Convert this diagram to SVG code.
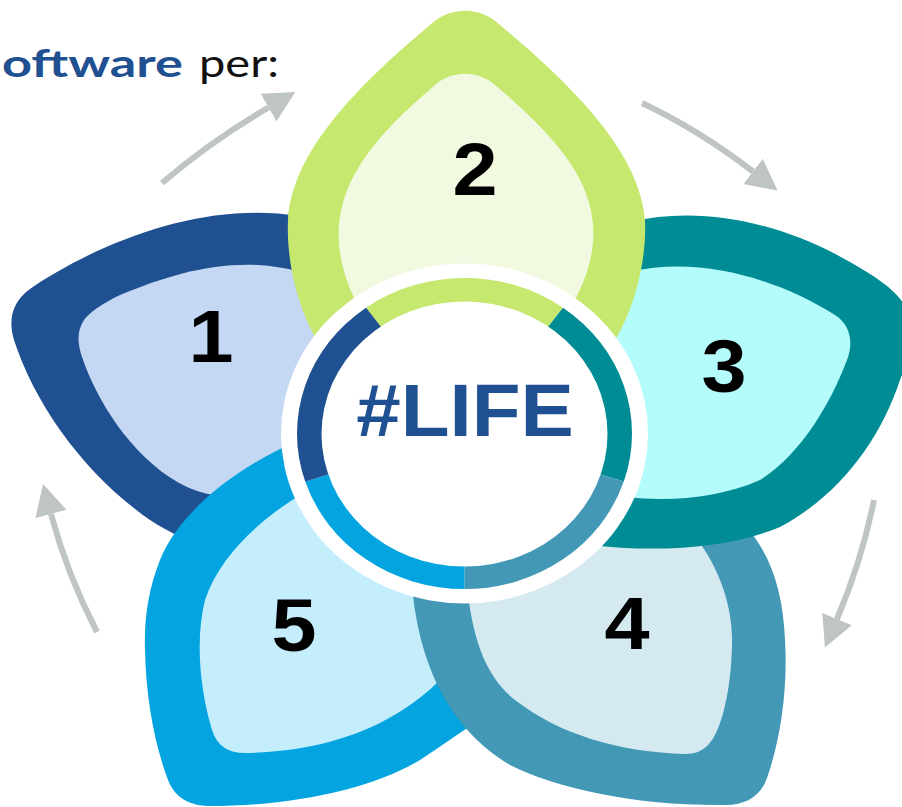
<svg xmlns="http://www.w3.org/2000/svg" width="902" height="807" viewBox="0 0 902 807">
<style>
.num{font-family:"Liberation Sans",Arial,sans-serif;font-weight:bold;font-size:75px;fill:#000;text-anchor:middle}
.arr{fill:none;stroke:#bec5c3;stroke-width:6;marker-end:url(#ah)}
.c1{fill:#1f5091}.l1{fill:#c5d8f3}
.c2{fill:#c6e86e}.l2{fill:#f1fae0}
.c3{fill:#008c94}.l3{fill:#b4fbfc}
.c4{fill:#4398b6}.l4{fill:#d5e9f1}
.c5{fill:#03a4e0}.l5{fill:#c5eefd}
</style>
<defs>
<marker id="ah" markerUnits="userSpaceOnUse" markerWidth="32" markerHeight="32" refX="0" refY="16" orient="auto" viewBox="0 0 32 32">
<path d="M0,0 L31,16 L0,32 Z" fill="#bec5c3"/>
</marker>
</defs>
<rect width="902" height="807" fill="#fff"/>
<g id="title">
<text x="2" y="77" font-family="Lato,'Open Sans',sans-serif" font-weight="bold" font-size="38" fill="#1f5091" textLength="181" lengthAdjust="spacingAndGlyphs">oftware</text>
<text x="199" y="77" font-family="Lato,'Open Sans',sans-serif" font-size="38" fill="#111" textLength="80" lengthAdjust="spacingAndGlyphs">per:</text>
</g>
<g id="connectors">
<path class="arr" d="M162,183 Q211.5,140.5 268.5,107.5"/>
<path class="arr" d="M642,103 Q699,130 753,171.5"/>
<path class="arr" d="M874,500 Q862,560 837,619"/>
<path class="arr" d="M97,632 Q67,574 51,514"/>
</g>
<g id="petal-1">
<path class="c1" d="M465,433 L300,216 C230,205 160,222 95,252 C70,264 45,278 30,289 C12,302 8,320 14,340 C35,405 85,475 150,520 C170,533 190,542 210,548 Z"/>
<path class="l1" d="M465,433 L300,272 C240,255 180,270 120,295 C100,305 90,312 84,320 C76,332 78,345 82,357 C100,410 140,465 187,487 C200,493 212,495 225,497 Z"/>
<text class="num" transform="translate(211,362) scale(1.08,1)">1</text>
</g>
<g id="petal-5">
<path class="c5" d="M465,433 L300,440 C240,465 180,510 160,560 C148,590 144,620 145,650 C146,700 155,745 168,780 C175,798 190,806 210,806 C290,806 370,790 420,760 C440,747 460,732 480,720 Z"/>
<path class="l5" d="M465,433 L300,495 C260,520 220,555 205,600 C195,640 200,690 212,730 C217,746 228,753 245,753 C320,752 390,730 440,680 Z"/>
<text class="num" transform="translate(294,651) scale(1.08,1)">5</text>
</g>
<g id="petal-4">
<path class="c4" d="M465,433 L740,520 C770,550 783,590 785,640 C788,690 780,740 768,775 C762,795 748,805 725,805 C640,806 560,790 510,765 C460,735 420,680 412,585 Z"/>
<path class="l4" d="M465,433 L690,530 C715,560 733,600 732,645 C731,690 722,725 712,740 C705,750 697,754 685,754 C620,752 560,735 515,700 C490,680 475,650 468,595 Z"/>
<text class="num" transform="translate(627,649) scale(1.08,1)">4</text>
</g>
<g id="petal-3">
<path class="c3" d="M465,433 L630,222 C700,205 780,222 850,262 C890,285 910,300 912,330 C912,350 906,365 900,380 C880,440 840,495 780,527 C730,548 660,553 590,545 Z"/>
<path class="l3" d="M465,433 L630,272 C700,255 780,280 835,315 C852,326 853,345 847,360 C830,405 800,455 760,480 C720,498 670,502 625,497 Z"/>
<text class="num" transform="translate(724,392) scale(1.08,1)">3</text>
</g>
<g id="petal-2">
<path class="c2" d="M465,433 L320,345 C300,315 286,265 288,220 C292,160 340,100 430,25 C450,6 480,6 500,25 C590,100 640,160 645,220 C647,265 632,315 612,345 Z"/>
<path class="l2" d="M465,433 L355,300 C343,275 337,250 339,225 C343,180 370,140 435,85 C452,70 478,70 495,85 C560,140 590,180 593,225 C595,250 588,275 575,300 Z"/>
<text class="num" transform="translate(475,195) scale(1.08,1)">2</text>
</g>
<g id="center">
<ellipse cx="464.5" cy="433.5" rx="183.5" ry="170" fill="#fff"/>
<path class="c2" d="M464.5,433.5 L366.05,307.7 A167.5,155.5 0 0 1 562.95,307.7 Z"/>
<path class="c3" d="M464.5,433.5 L562.95,307.7 A167.5,155.5 0 0 1 623.8,481.55 Z"/>
<path class="c4" d="M464.5,433.5 L623.8,481.55 A167.5,155.5 0 0 1 464.5,589 Z"/>
<path class="c5" d="M464.5,433.5 L464.5,589 A167.5,155.5 0 0 1 305.2,481.55 Z"/>
<path class="c1" d="M464.5,433.5 L305.2,481.55 A167.5,155.5 0 0 1 366.05,307.7 Z"/>
<ellipse cx="464.5" cy="434" rx="143" ry="132.5" fill="#fff"/>
<text transform="translate(465,436) scale(1.08,1)" font-family="'Liberation Sans',Arial,sans-serif" font-weight="bold" font-size="74" fill="#1f5091" text-anchor="middle">#LIFE</text>
</g>
</svg>
